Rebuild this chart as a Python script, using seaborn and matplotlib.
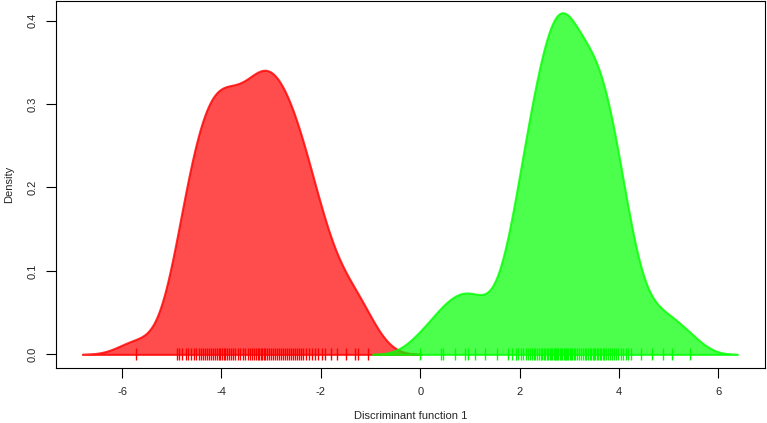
import numpy as np
import matplotlib
matplotlib.use("Agg")
import matplotlib.pyplot as plt
import matplotlib.transforms as mtransforms
import seaborn as sns

# discriminant scores
red_scores = [-5.72,
              -4.90, -4.86, -4.80,
              -4.72, -4.68, -4.62, -4.56, -4.52,
              -4.46, -4.42, -4.38, -4.34, -4.30, -4.26,
              -4.22, -4.18, -4.14, -4.10, -4.06, -4.02, -3.98,
              -3.95, -3.92, -3.88, -3.84, -3.80, -3.76,
              -3.72, -3.67, -3.62, -3.57, -3.52, -3.47, -3.43,
              -3.39, -3.35, -3.31, -3.27, -3.24, -3.21, -3.18, -3.15,
              -3.12, -3.09, -3.05, -3.01,
              -2.97, -2.93, -2.89, -2.85, -2.81, -2.77, -2.73, -2.69,
              -2.65, -2.61,
              -2.57, -2.53, -2.49, -2.45, -2.40, -2.35, -2.30, -2.24,
              -2.18, -2.12,
              -2.05, -1.98, -1.92,
              -1.80, -1.68, -1.50, -1.32, -1.26, -1.06]

green_scores = [0.00, 0.42, 0.46, 0.70, 0.90, 0.96, 1.10, 1.30, 1.54,
                1.76, 1.84,
                1.92, 1.96, 2.02, 2.07,
                2.12, 2.16, 2.20, 2.24, 2.28,
                2.31, 2.34, 2.38, 2.42, 2.45, 2.48,
                2.51, 2.54, 2.57, 2.60, 2.63, 2.66, 2.69,
                2.71, 2.73, 2.76, 2.78, 2.81, 2.84, 2.86, 2.89,
                2.91, 2.93, 2.96, 2.98, 3.01, 3.04, 3.06, 3.09,
                3.12, 3.16, 3.20, 3.24, 3.28, 3.31,
                3.34, 3.37, 3.41, 3.44, 3.47, 3.50,
                3.52, 3.55, 3.58, 3.61, 3.64, 3.67, 3.70,
                3.73, 3.77, 3.81, 3.85, 3.89,
                3.93, 3.98, 4.03, 4.08,
                4.13, 4.18, 4.23,
                4.44, 4.66, 4.88, 5.06, 5.42]

x_ticks = [-6, -4, -2, 0, 2, 4, 6]
y_ticks = [0.0, 0.1, 0.2, 0.3, 0.4]

sns.set_style("white")
plt.rcParams['font.family'] = ['Liberation Sans', 'DejaVu Sans']

fig = plt.figure(figsize=(7.67, 4.23), dpi=100)
ax = fig.add_axes([0.073, 0.130, 0.924, 0.868])

groups = [(red_scores, (1, 0, 0), 0.36), (green_scores, (0, 1, 0), 0.32)]
for vals, col, bw in groups:
    factor = bw / np.std(vals, ddof=1)
    sns.kdeplot(x=vals, bw_method=factor, cut=3, fill=True, color=col,
                alpha=0.7, edgecolor=col + (0.8,), linewidth=1.5, ax=ax)

shift = mtransforms.ScaledTranslation(0, 0.08, fig.dpi_scale_trans)
for vals, col, bw in groups:
    sns.rugplot(x=vals, height=0.033, color=col, linewidth=1,
                expand_margins=False, ax=ax)
    rug = ax.collections[-1]
    rug.set_transform(rug.get_transform() + shift)

ax.set_xlim(-7.33, 6.93)
ax.set_ylim(-0.0163, 0.4236)
ax.set_xticks(x_ticks)
ax.set_xticklabels([str(t) for t in x_ticks])
ax.set_yticks(y_ticks)
ax.set_yticklabels([f"{t:.1f}" for t in y_ticks], rotation=90, va='center')
ax.tick_params(axis='both', direction='out', length=7, width=0.8,
               color='black', labelsize=8, bottom=True, left=True)
ax.tick_params(axis='x', pad=7)
ax.tick_params(axis='y', pad=6)
for s in ax.spines.values():
    s.set_visible(True)
    s.set_color('black')
    s.set_linewidth(0.8)

ax.set_xlabel("Discriminant function 1", fontsize=8, labelpad=10)
ax.set_ylabel("Density", fontsize=8, labelpad=10)

fig.savefig("out.png", dpi=100)
